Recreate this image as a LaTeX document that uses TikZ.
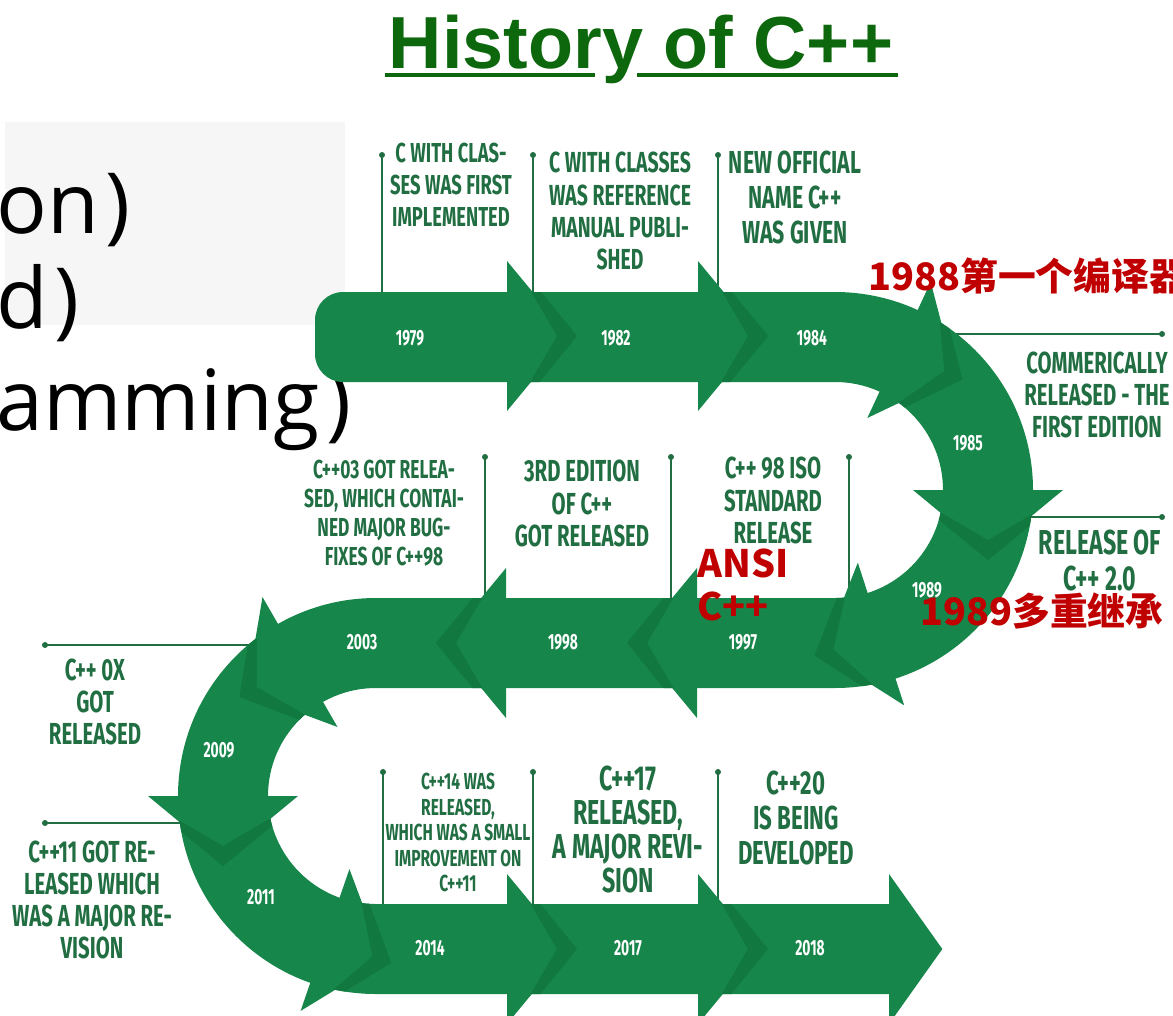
\documentclass[tikz,border=0pt]{standalone}
\usepackage{fontspec}
\newfontfamily\labelfont[FakeStretch=0.67]{Fira Sans}
\newfontfamily\yearfont[FakeStretch=0.63]{Fira Sans}
\newfontfamily\titlefont{Liberation Sans}
\newfontfamily\slidefont{Open Sans}
\newfontfamily\cjkfont{Noto Sans CJK SC}

\definecolor{bandgreen}{RGB}{22,134,74}
\definecolor{creasegreen}{RGB}{17,120,63}
\definecolor{textgreen}{RGB}{33,110,66}
\definecolor{titlegreen}{RGB}{13,104,13}
\definecolor{markred}{RGB}{192,0,0}
\definecolor{panelgray}{RGB}{246,246,246}

\tikzset{
  pics/pointer/.style={code={\fill[bandgreen] (0,-75) -- (62,0) -- (0,75) -- cycle;}},
  pics/crease/.style={code={\fill[creasegreen] (15,-60) -- (21,-60) -- (70,0) -- (21,60) -- (15,60) -- (50,0) -- cycle;}}
}

% outline of the winding band (pixel units)
\def\serpent{(343,-292) -- (835,-292) arc[start angle=90,end angle=-90,radius=198]
  -- (376,-688) arc[start angle=90,end angle=270,radius=108]
  -- (889,-904) -- (889,-994) -- (376,-994) arc[start angle=270,end angle=90,radius=198]
  -- (835,-598) arc[start angle=-90,end angle=90,radius=108]
  -- (343,-382) arc[start angle=270,end angle=180,radius=28]
  -- (315,-320) arc[start angle=180,end angle=90,radius=28] -- cycle}

\begin{document}
\begin{tikzpicture}[x=0.02cm, y=0.02cm,
  note/.style 2 args={text=textgreen, align=center, anchor=north, inner sep=0pt,
    font=\labelfont\bfseries\fontsize{#1}{#2}\selectfont},
  year/.style={text=white, inner sep=0pt, font=\yearfont\bfseries\fontsize{12.5}{13}\selectfont},
  lead/.style={draw=textgreen, line width=1.1pt},
  redmark/.style={text=markred, inner sep=0pt, font=\cjkfont\bfseries\fontsize{21.5}{24.4}\selectfont},
  bigtext/.style={anchor=base west, inner sep=0pt, font=\slidefont\fontsize{48}{58}\selectfont}]
\useasboundingbox (0,-1015) rectangle (1173,0);
\clip (0,-1015) rectangle (1173,0);

% slide text behind the timeline
\fill[panelgray] (5,-122) rectangle (345,-325);
\node[bigtext] (lineA) at (-4,-233) {on\kern0.08em)};
\node[bigtext] (lineB) at (-4,-328) {d\kern0.08em)};
\node[bigtext] (lineC) at (-4,-430) {amming\kern0.08em)};

% title
\node[text=titlegreen, anchor=base, inner sep=0pt,
  font=\titlefont\bfseries\fontsize{42}{50}\selectfont] (title) at (641,-68) {History of C++};
\draw[titlegreen, line width=2.8pt] (385,-75) -- (595,-75) (637,-75) -- (898,-75);

% leader lines
\foreach \x/\t/\b in {382/-155/-292, 533/-155/-292, 718/-155/-292,
                      485/-457/-598, 671/-457/-598, 849/-457/-590,
                      383/-772/-904, 533/-772/-904, 718/-772/-904} {
  \draw[lead] (\x,\t) -- (\x,\b);
  \fill[textgreen] (\x,\t) circle (3);
}
\foreach \y/\a/\b in {-334/1162/952, -517/1162/1031, -645/45/249, -823/45/180} {
  \draw[lead] (\a,\y) -- (\b,\y);
  \fill[textgreen] (\a,\y) circle (3);
}

% band
\fill[bandgreen] \serpent;
% arrow heads
\foreach \x/\y/\a in {507/-336/0, 698/-336/0, 899/-350/-25, 988/-490/-90, 881/-634/-162,
                      697/-643/180, 506/-643/180, 300/-662/-150, 223/-796/-90, 325/-940/-19,
                      507/-949/0, 698/-949/0}
  \pic[rotate=\a] at (\x,\y) {pointer};
\pic[xscale=0.86] at (889,-949) {pointer};
% darker folds where a head meets the next piece
\begin{scope}
  \clip \serpent;
  \foreach \x/\y/\a in {507/-336/0, 698/-336/0, 899/-350/-25, 988/-490/-90, 881/-634/-162,
                        697/-643/180, 506/-643/180, 300/-662/-150, 223/-796/-90, 325/-940/-19,
                        507/-949/0, 698/-949/0}
    \pic[rotate=\a] at (\x,\y) {crease};
\end{scope}

% years
\foreach \x/\y/\yr in {410/-338/1979, 616/-338/1982, 812/-338/1984, 968/-443/1985,
                       927/-590/1989, 743/-642/1997, 563/-642/1998, 362/-642/2003,
                       219/-750/2009, 261/-897/2011, 430/-948/2014, 628/-948/2017, 810/-948/2018}
  \node[year] (y\yr) at (\x,\y) {\yr};

% events
\node[note={15.6}{18.1}] (e1979) at (451,-143) {C WITH CLAS-\\SES WAS FIRST\\IMPLEMENTED};
\node[note={16.5}{18.4}] (e1982) at (620,-152) {C WITH CLASSES\\WAS REFERENCE\\MANUAL PUBLI-\\SHED};
\node[note={18.1}{19.8}] (e1984) at (795,-151) {NEW OFFICIAL\\NAME C++\\WAS GIVEN};
\node[note={17.3}{18.1}] (e1985) at (1097,-352) {COMMERICALLY\\RELEASED - THE\\FIRST EDITION};
\node[note={19.7}{20.4}] (e1989) at (1100,-530) {RELEASE OF\\C++ 2.0};
\node[note={14.8}{16.4}] (e2003) at (384,-460) {C++03 GOT RELEA-\\SED, WHICH CONTAI-\\NED MAJOR BUG-\\FIXES OF C++98};
\node[note={17.3}{18.4}] (e1998) at (582,-460) {3RD EDITION\\OF C++\\GOT RELEASED};
\node[note={17.3}{18.4}] (e1997) at (773,-457) {C++ 98 ISO\\STANDARD\\RELEASE};
\node[note={17.3}{18.1}] (e2009) at (95,-659) {C++ 0X\\GOT\\RELEASED};
\node[note={17.3}{18.1}] (e2011) at (92,-841) {C++11 GOT RE-\\LEASED WHICH\\WAS A MAJOR RE-\\VISION};
\node[note={13.2}{14.5}] (e2014) at (458,-773) {C++14 WAS\\RELEASED,\\WHICH WAS A SMALL\\IMPROVEMENT ON\\C++11};
\node[note={19.7}{19.3}] (e2017) at (628,-766) {C++17\\RELEASED,\\A MAJOR REVI-\\SION};
\node[note={18.9}{19.8}] (e2018) at (796,-771) {C++20\\IS BEING\\DEVELOPED};

% red remarks
\node[redmark, anchor=base west] (m1988) at (868,-290) {1988第一个编译器};
\node[redmark, anchor=base west] (m1989) at (920,-625) {1989多重继承};
\node[redmark, anchor=north west, align=left] (mansi) at (697,-549) {ANSI\\C++};
\end{tikzpicture}
\end{document}
